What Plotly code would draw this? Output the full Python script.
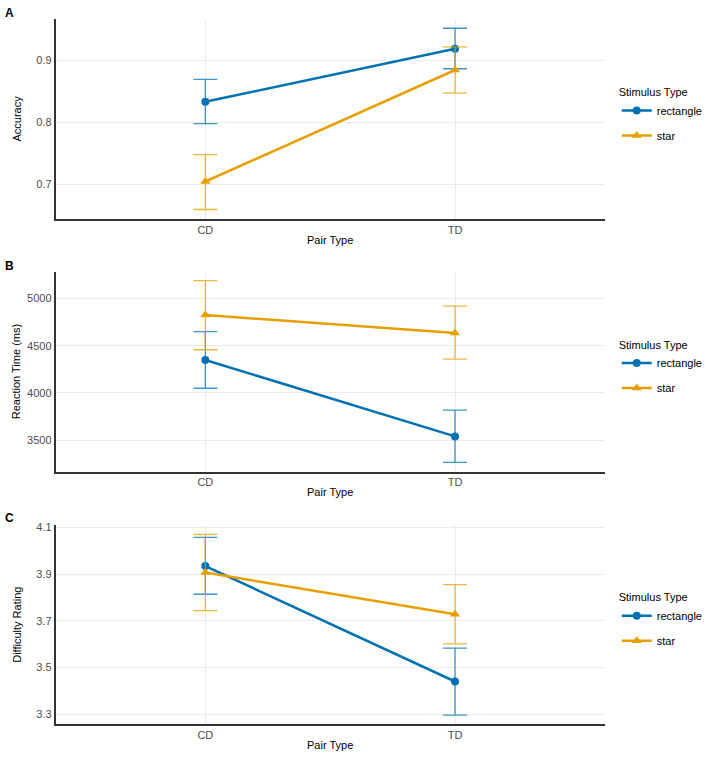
import plotly.graph_objects as go

pair_types = ["CD", "TD"]
stimuli = ["rectangle", "star"]

# Panel A: Accuracy
acc_mean = {"rectangle": [0.833, 0.918], "star": [0.705, 0.884]}
acc_low = {"rectangle": [0.798, 0.886], "star": [0.660, 0.847]}
acc_high = {"rectangle": [0.869, 0.951], "star": [0.748, 0.921]}

# Panel B: Reaction time (ms)
rt_mean = {"rectangle": [4350, 3540], "star": [4825, 4635]}
rt_low = {"rectangle": [4050, 3264], "star": [4458, 4359]}
rt_high = {"rectangle": [4650, 3818], "star": [5190, 4920]}

# Panel C: Difficulty rating
dr_mean = {"rectangle": [3.935, 3.44], "star": [3.907, 3.728]}
dr_low = {"rectangle": [3.814, 3.296], "star": [3.744, 3.601]}
dr_high = {"rectangle": [4.058, 3.583], "star": [4.071, 3.855]}

panels = [
    ("A", "Accuracy", acc_mean, acc_low, acc_high, [0.645, 0.966], [0.7, 0.8, 0.9], ["0.7", "0.8", "0.9"]),
    ("B", "Reaction Time (ms)", rt_mean, rt_low, rt_high, [3168, 5286], [3500, 4000, 4500, 5000], ["3500", "4000", "4500", "5000"]),
    ("C", "Difficulty Rating", dr_mean, dr_low, dr_high, [3.257, 4.110], [3.3, 3.5, 3.7, 3.9, 4.1], ["3.3", "3.5", "3.7", "3.9", "4.1"]),
]

colors = {"rectangle": "#0072B2", "star": "#E69F00"}
err_colors = {"rectangle": "rgba(0,114,178,0.75)", "star": "rgba(230,159,0,0.75)"}
symbols = {"rectangle": "circle", "star": "triangle-up"}

W, H = 708, 758
# pixel bounds of each plot area (top, bottom)
px_rows = [(15, 216), (269, 470), (524, 724)]
x0, x1 = 56, 610
legend_y = [88, 342, 596]
label_y = [9, 263, 517]
ytitle_standoff = [12, 4, 12]

FONT = "Liberation Sans, Arial, sans-serif"
fig = go.Figure()
layout = {}

for i, (lab, ytitle, mean, low, high, yr, tv, tt) in enumerate(panels):
    suffix = "" if i == 0 else str(i + 1)
    xa = "x" + suffix
    ya = "y" + suffix
    lg = "legend" + suffix
    for s in stimuli:
        fig.add_trace(go.Scatter(
            x=pair_types, y=mean[s], xaxis=xa, yaxis=ya,
            mode="lines+markers", name=s, legend=lg, legendgroup=lg + s,
            line=dict(color=colors[s], width=2.5),
            marker=dict(symbol=symbols[s], size=9 if s == "star" else 8, color=colors[s]),
            error_y=dict(type="data", symmetric=False,
                         array=[h - m for h, m in zip(high[s], mean[s])],
                         arrayminus=[m - l for m, l in zip(mean[s], low[s])],
                         color=err_colors[s], thickness=1.3, width=12),
        ))
    top, bot = px_rows[i]
    layout["xaxis" + suffix] = dict(
        domain=[x0 / W, x1 / W], anchor=ya, type="category",
        categoryorder="array", categoryarray=pair_types, range=[-0.6, 1.6],
        showgrid=True, gridcolor="#EBEBEB", gridwidth=1,
        showline=True, linecolor="#333333", linewidth=1.5,
        ticks="", tickfont=dict(size=11, color="#4D4D4D", family=FONT),
        title=dict(text="Pair Type", font=dict(size=11, color="black", family=FONT), standoff=1),
        zeroline=False, fixedrange=True,
    )
    layout["yaxis" + suffix] = dict(
        domain=[1 - bot / H, 1 - top / H], anchor=xa, range=yr,
        tickvals=tv, ticktext=tt,
        showgrid=True, gridcolor="#EBEBEB", gridwidth=1,
        showline=True, linecolor="#333333", linewidth=1.5,
        ticks="", tickfont=dict(size=11, color="#4D4D4D", family=FONT),
        title=dict(text=ytitle, font=dict(size=11, color="black", family=FONT), standoff=ytitle_standoff[i]),
        zeroline=False, fixedrange=True,
    )
    layout[lg] = dict(
        x=622 / W, y=1 - (legend_y[i] - 10) / H, xanchor="left", yanchor="top",
        title=dict(text="Stimulus Type", font=dict(size=11, color="black", family=FONT)),
        font=dict(size=11, color="black", family=FONT),
        bgcolor="rgba(0,0,0,0)", tracegroupgap=6, itemwidth=30,
    )
    fig.add_annotation(text="<b>%s</b>" % lab, xref="paper", yref="paper",
                       x=3 / W, y=1 - label_y[i] / H, xanchor="left", yanchor="middle",
                       showarrow=False, font=dict(size=12, color="black", family=FONT))

fig.update_layout(
    width=W, height=H, margin=dict(l=0, r=0, t=0, b=0),
    plot_bgcolor="white", paper_bgcolor="white",
    font=dict(family=FONT), showlegend=True,
    **layout,
)
fig.write_html("out.html")
